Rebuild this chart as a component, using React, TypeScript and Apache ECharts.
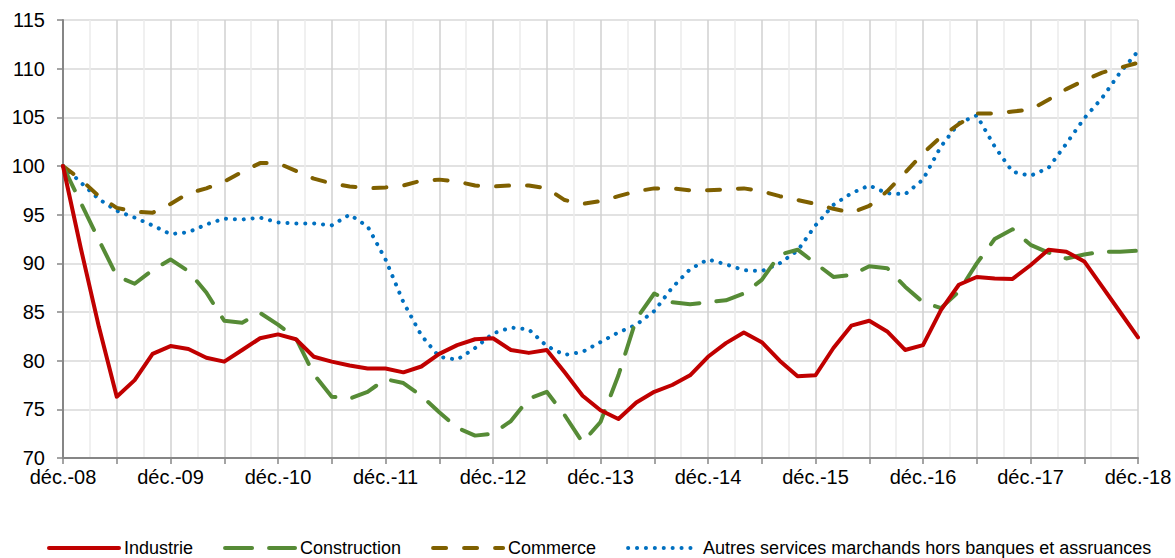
import React, { useEffect, useRef } from "react";
import * as echarts from "echarts";

const MONTHS = ["déc.", "févr.", "avr.", "juin", "août", "oct."];
const YEARS = ["08", "09", "10", "11", "12", "13", "14", "15", "16", "17", "18"];

// bi-monthly categories from déc.-08 to déc.-18
const categories: string[] = [];
for (let y = 0; y < YEARS.length; y++) {
  for (let m = 0; m < MONTHS.length; m++) {
    if (y === YEARS.length - 1 && m > 0) break;
    const yr = m === 0 ? YEARS[y] : YEARS[y + 1];
    categories.push(MONTHS[m] + "-" + yr);
  }
}

const industrie = [
  100, 91.5, 83.5, 76.3, 78.0, 80.7, 81.5, 81.2, 80.3, 79.9,
  81.1, 82.3, 82.7, 82.2, 80.4, 79.9, 79.5, 79.2, 79.2, 78.8,
  79.4, 80.7, 81.6, 82.2, 82.3, 81.1, 80.8, 81.1, 78.8, 76.4,
  74.9, 74.0, 75.7, 76.8, 77.5, 78.5, 80.4, 81.8, 82.9, 81.9,
  80.0, 78.4, 78.5, 81.3, 83.6, 84.1, 83.0, 81.1, 81.6, 85.2,
  87.8, 88.6, 88.45, 88.4, 89.8, 91.4, 91.2, 90.2, 87.6, 85.0, 82.4,
];

const construction = [
  100, 96.2, 92.4, 88.7, 87.9, 89.3, 90.4, 89.2, 87.0, 84.1,
  83.9, 84.9, 83.7, 82.3, 78.6, 76.3, 76.1, 76.8, 78.1, 77.7,
  76.4, 74.7, 73.1, 72.3, 72.5, 73.8, 76.1, 76.8, 74.4, 71.6,
  73.7, 78.5, 84.3, 86.9, 86.0, 85.8, 86.0, 86.2, 86.9, 88.3,
  90.9, 91.4, 90.0, 88.6, 88.8, 89.7, 89.5, 87.6, 86.0, 85.4,
  87.1, 90.0, 92.5, 93.5, 91.9, 91.1, 90.5, 90.9, 91.2, 91.2, 91.3,
];

const commerce = [
  100, 98.6, 96.9, 95.7, 95.3, 95.2, 96.1, 97.2, 97.7, 98.4,
  99.4, 100.3, 100.3, 99.5, 98.7, 98.2, 97.9, 97.7, 97.8, 98.0,
  98.5, 98.6, 98.4, 98.0, 97.9, 98.0, 98.0, 97.7, 96.5, 96.1,
  96.4, 96.9, 97.4, 97.7, 97.7, 97.5, 97.5, 97.6, 97.7, 97.4,
  96.9, 96.5, 96.1, 95.6, 95.2, 95.9, 97.4, 99.3, 101.3, 103.0,
  104.3, 105.4, 105.4, 105.6, 105.8, 106.8, 107.9, 108.8, 109.6, 110.1, 110.6,
];

const autres = [
  100, 98.3, 96.6, 95.4, 94.7, 93.9, 93.0, 93.2, 94.0, 94.6,
  94.5, 94.7, 94.2, 94.1, 94.1, 93.9, 95.0, 93.8, 90.4, 86.0,
  82.6, 80.4, 80.1, 81.3, 82.8, 83.4, 83.2, 81.5, 80.6, 80.9,
  81.9, 82.9, 83.7, 85.1, 87.5, 89.4, 90.4, 89.9, 89.3, 89.2,
  90.0, 91.3, 93.9, 96.0, 97.2, 98.0, 97.2, 97.1, 98.6, 102.0,
  104.4, 105.2, 102.0, 99.4, 99.0, 99.8, 102.3, 104.9, 107.0, 109.6, 111.8,
];

const seriesNames = [
  "Industrie",
  "Construction",
  "Commerce",
  "Autres services marchands hors banques et assruances",
];

const FONT = "'Liberation Sans', Arial, sans-serif";

export default function App() {
  const ref = useRef<HTMLDivElement>(null);
  useEffect(() => {
    if (!ref.current) return;
    const chart = echarts.init(ref.current, undefined, { renderer: "svg" });
    const quarters = (categories.length - 1) / 1.5;
    chart.setOption({
      animation: false,
      backgroundColor: "#ffffff",
      grid: { left: 63, right: 37, top: 20, bottom: 100, containLabel: false },
      legend: {
        data: seriesNames,
        left: 47,
        top: 538,
        padding: 0,
        itemWidth: 70,
        itemHeight: 12,
        itemGap: 30,
        itemStyle: { opacity: 0 },
        lineStyle: { width: 4, type: "inherit", cap: "round" },
        textStyle: { fontFamily: FONT, fontSize: 18, color: "#000", lineHeight: 20 },
      },
      xAxis: [
        {
          type: "category",
          data: categories,
          boundaryGap: false,
          axisLine: { lineStyle: { color: "#868686", width: 2 } },
          axisTick: {
            interval: 2,
            length: 6,
            lineStyle: { color: "#868686", width: 1.5 },
          },
          axisLabel: {
            interval: 5,
            margin: 9,
            fontFamily: FONT,
            fontSize: 20,
            color: "#000",
          },
          splitLine: { show: false },
          z: 3,
        },
        {
          type: "value",
          min: 0,
          max: quarters,
          interval: 1,
          position: "bottom",
          axisLine: { show: false },
          axisTick: { show: false },
          axisLabel: { show: false },
          splitLine: {
            show: true,
            lineStyle: { color: ["#d0d0d0", "#ebebeb"], width: 1.5 },
          },
        },
      ],
      yAxis: {
        type: "value",
        min: 70,
        max: 115,
        interval: 5,
        axisLine: { show: true, lineStyle: { color: "#868686", width: 2 } },
        axisTick: { show: true, length: 6, lineStyle: { color: "#868686", width: 1.5 } },
        axisLabel: {
          margin: 18,
          fontFamily: FONT,
          fontSize: 20,
          color: "#000",
        },
        splitLine: { lineStyle: { color: "#d9d9d9", width: 1.5 } },
      },
      series: [
        {
          name: seriesNames[0],
          type: "line",
          data: industrie,
          symbol: "none",
          lineStyle: { color: "#C00000", width: 4, cap: "round", join: "round" },
          itemStyle: { color: "#C00000" },
          z: 5,
        },
        {
          name: seriesNames[1],
          type: "line",
          data: construction,
          symbol: "none",
          lineStyle: { color: "#568B36", width: 4, type: [27, 17], cap: "round", join: "round" },
          itemStyle: { color: "#568B36" },
          z: 4,
        },
        {
          name: seriesNames[2],
          type: "line",
          data: commerce,
          symbol: "none",
          lineStyle: { color: "#7F6000", width: 4, type: [13, 18], cap: "round", join: "round" },
          itemStyle: { color: "#7F6000" },
          z: 3,
        },
        {
          name: seriesNames[3],
          type: "line",
          data: autres,
          symbol: "none",
          lineStyle: { color: "#0070C0", width: 4, type: [0.1, 8.8], cap: "round", join: "round" },
          itemStyle: { color: "#0070C0" },
          z: 2,
        },
      ],
    });
    return () => chart.dispose();
  }, []);
  return (
    <div
      ref={ref}
      style={{ position: "absolute", left: 0, top: 0, width: 1175, height: 558 }}
    />
  );
}
